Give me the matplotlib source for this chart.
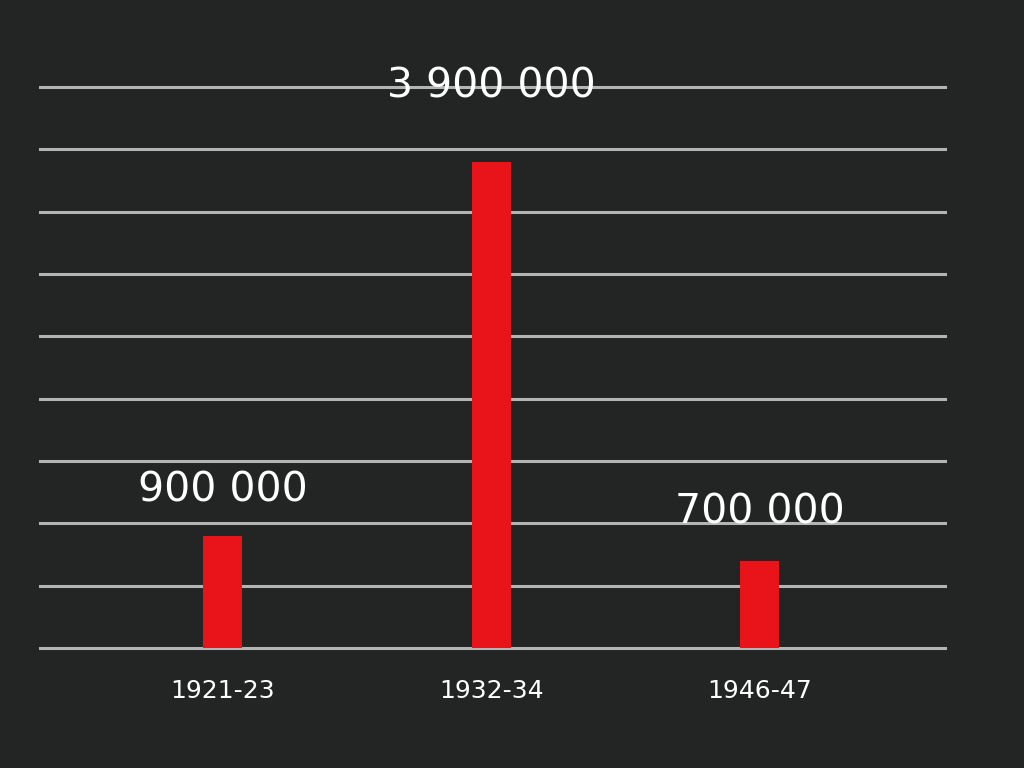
import matplotlib
matplotlib.use("Agg")
import numpy as np
import matplotlib.pyplot as plt

# ====== DANE ======
periods = ["1921-23", "1932-34", "1946-47"]
victims = [900000, 3900000, 700000]
value_labels = ["900 000", "3 900 000", "700 000"]
grid_levels = [0, 500000, 1000000, 1500000, 2000000, 2500000,
               3000000, 3500000, 4000000, 4500000]

BG = "#232525"
BAR_RED = "#e8141a"
LINE_GREY = "#b4b4b4"

fig = plt.figure(figsize=(10.24, 7.68), dpi=100, facecolor=BG)
ax = fig.add_axes([40 / 1024, 120 / 768, 905 / 1024, 568 / 768])
ax.set_facecolor(BG)

# poziome linie siatki
for lvl in grid_levels:
    ax.axhline(lvl, color=LINE_GREY, lw=2.2, zorder=1, clip_on=False)

x = np.arange(len(periods))
ax.bar(x, victims, width=0.145, color=BAR_RED, zorder=2)

# etykiety wartosci nad slupkami (srodek tekstu)
offsets = [360000, 600000, 385000]
for xi, v, lab, off in zip(x, victims, value_labels, offsets):
    ax.text(xi, v + off, lab, ha="center", va="center", color="white",
            fontsize=29.5, zorder=3, clip_on=False)

ax.set_xlim(-0.68, 2.69)
ax.set_ylim(0, 4.555e6)
ax.set_xticks(x)
ax.set_xticklabels(periods, color="white", fontsize=18)
ax.tick_params(axis="x", length=0, pad=22)
ax.set_yticks([])
for s in ax.spines.values():
    s.set_visible(False)

fig.savefig("out.png", dpi=100, facecolor=BG)
